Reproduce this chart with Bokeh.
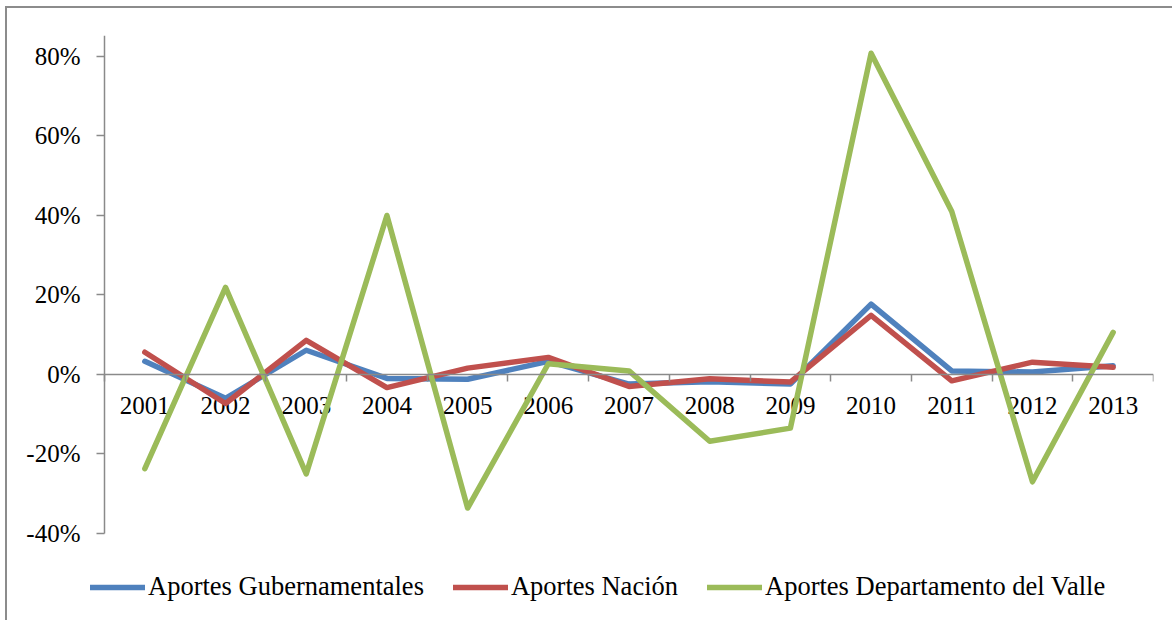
from bokeh.plotting import figure
from bokeh.models import (ColumnDataSource, Range1d, FixedTicker, NumeralTickFormatter,
                          LinearAxis, Legend, LegendItem)
from bokeh.core.properties import value
from bokeh.embed import file_html
from bokeh.resources import INLINE

# ---- data ----
years = [2001, 2002, 2003, 2004, 2005, 2006, 2007, 2008, 2009, 2010, 2011, 2012, 2013]
year_labels = ["2001", "2002", "2003", "2004", "2005", "2006", "2007",
               "2008", "2009", "2010", "2011", "2012", "2013"]
aportes_gubernamentales = [0.033, -0.060, 0.061, -0.010, -0.012, 0.033, -0.024, -0.018, -0.024, 0.177, 0.009, 0.006, 0.022]
aportes_nacion = [0.056, -0.073, 0.086, -0.033, 0.016, 0.043, -0.030, -0.011, -0.019, 0.149, -0.016, 0.031, 0.018]
aportes_valle = [-0.237, 0.219, -0.250, 0.400, -0.336, 0.027, 0.009, -0.168, -0.135, 0.808, 0.410, -0.270, 0.106]
y_ticks = [-0.4, -0.2, 0.0, 0.2, 0.4, 0.6, 0.8]
series_names = ["Aportes Gubernamentales", "Aportes Nación", "Aportes Departamento del Valle"]
colors = ["#4F81BD", "#C0504D", "#9BBB59"]

FONT = "Liberation Serif"
AXIS_COLOR = "#8a8a8a"

source = ColumnDataSource(dict(x=years, label=year_labels, gub=aportes_gubernamentales,
                               nac=aportes_nacion, valle=aportes_valle))

x_lo, x_hi = years[0] - 0.5, years[-1] + 0.5
p = figure(width=1165, height=612, output_backend="svg", toolbar_location=None,
           x_range=Range1d(x_lo - 0.2355, x_hi),
           y_range=Range1d(-0.6189, 0.8528),
           x_axis_type=None, y_axis_type=None,
           min_border_left=78, min_border_right=19, min_border_top=27, min_border_bottom=0)
p.outline_line_color = None
p.xgrid.visible = False
p.ygrid.visible = False
p.background_fill_color = "white"
p.border_fill_color = "white"
p.styles = {"outline": "2px solid #8c8c8c", "margin-left": "7px", "margin-top": "8px"}

# y axis line and ticks (line from -40% to the top of the plot area)
yax = LinearAxis(ticker=FixedTicker(ticks=y_ticks),
                 fixed_location=x_lo, bounds=(y_ticks[0], 0.8528))
yax.axis_line_color = AXIS_COLOR
yax.axis_line_width = 1.5
yax.major_tick_line_color = AXIS_COLOR
yax.major_tick_line_width = 1.5
yax.major_tick_out = 8
yax.major_tick_in = 0
yax.minor_tick_line_color = None
yax.major_label_text_font_size = "0px"
yax.major_label_text_alpha = 0
p.add_layout(yax, "left")

# y tick labels
ylab = LinearAxis(ticker=FixedTicker(ticks=y_ticks),
                  formatter=NumeralTickFormatter(format="0%"))
ylab.axis_line_color = None
ylab.major_tick_line_color = None
ylab.minor_tick_line_color = None
ylab.major_tick_out = 0
ylab.major_tick_in = 0
ylab.major_label_text_font = FONT
ylab.major_label_text_font_size = "25px"
ylab.major_label_text_color = "black"
ylab.major_label_standoff = 5
p.add_layout(ylab, "left")

# x axis line at zero with boundary ticks pointing down
boundaries = [y - 0.5 for y in years] + [x_hi]
xax_line = LinearAxis(ticker=FixedTicker(ticks=boundaries), fixed_location=0,
                      bounds=(x_lo, x_hi))
xax_line.axis_line_color = AXIS_COLOR
xax_line.axis_line_width = 1.5
xax_line.major_tick_line_color = AXIS_COLOR
xax_line.major_tick_line_width = 1.5
xax_line.major_tick_out = 0
xax_line.major_tick_in = 7
xax_line.minor_tick_line_color = None
xax_line.major_label_text_font_size = "0px"
xax_line.major_label_standoff = 0
xax_line.major_label_text_alpha = 0
p.add_layout(xax_line, "above")

# category labels under the zero line
p.text(x="x", y=0, text="label", source=source, text_align="center",
       text_baseline="alphabetic", y_offset=31, text_font=value(FONT),
       text_font_size="25px", text_color="black")

renderers = []
for col, c in zip(["gub", "nac", "valle"], colors):
    r = p.line("x", col, source=source, line_color=c, line_width=5.5,
               line_join="round", line_cap="round")
    renderers.append(r)

lg = Legend(items=[LegendItem(label=n, renderers=[r]) for n, r in zip(series_names, renderers)])
lg.orientation = "horizontal"
lg.location = (5, 18)
lg.border_line_color = None
lg.background_fill_alpha = 0
lg.padding = 0
lg.margin = 0
lg.spacing = 29
lg.label_standoff = 3
lg.glyph_width = 55
lg.glyph_height = 20
lg.label_text_font = FONT
lg.label_text_font_size = "26.5px"
lg.label_text_color = "black"
p.add_layout(lg, "center")

open("out.html", "w").write(file_html(p, INLINE))
